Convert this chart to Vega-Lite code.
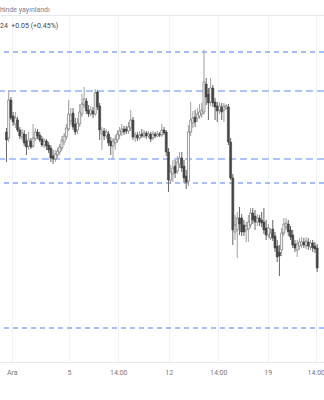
{
"$schema": "https://vega.github.io/schema/vega-lite/v6.json",
"width": 324, "height": 347,
"autosize": "none",
"padding": {"left": 0, "top": 15, "right": 0, "bottom": 38},
"background": "white",
"config": {"view": {"stroke": null}, "font": "Roboto"},
"title": {"text": "hinde yayınlandı", "subtitle": "24\u00a0\u00a0+0.05 (+0.45%)", "anchor": "start", "frame": "group", "orient": "top", "fontSize": 7, "subtitleFontSize": 7, "fontWeight": "normal", "color": "#7d8089", "subtitleColor": "#444444", "font": "Roboto", "subtitleFont": "Roboto", "offset": -14, "subtitlePadding": 9},
"datasets": {
"levels": [
{"p": 13.23, "s": "thin"}, {"p": 11.92, "s": "thin"}, {"p": 10.47, "s": "thin"},
{"p": 12.84, "s": "thick"}, {"p": 12.16, "s": "thick"}
],
"candles": [
{"i":0,"o":12.43,"h":12.47,"l":12.13,"c":12.35},
{"i":1,"o":12.37,"h":12.85,"l":12.33,"c":12.75},
{"i":2,"o":12.75,"h":12.78,"l":12.55,"c":12.57},
{"i":3,"o":12.59,"h":12.63,"l":12.49,"c":12.53},
{"i":4,"o":12.51,"h":12.63,"l":12.47,"c":12.57},
{"i":5,"o":12.55,"h":12.58,"l":12.43,"c":12.45},
{"i":6,"o":12.45,"h":12.48,"l":12.36,"c":12.39},
{"i":7,"o":12.38,"h":12.46,"l":12.35,"c":12.42},
{"i":8,"o":12.41,"h":12.45,"l":12.29,"c":12.32},
{"i":9,"o":12.34,"h":12.41,"l":12.20,"c":12.28},
{"i":10,"o":12.29,"h":12.43,"l":12.25,"c":12.35},
{"i":11,"o":12.34,"h":12.37,"l":12.26,"c":12.28},
{"i":12,"o":12.29,"h":12.51,"l":12.27,"c":12.37},
{"i":13,"o":12.36,"h":12.47,"l":12.34,"c":12.43},
{"i":14,"o":12.43,"h":12.46,"l":12.36,"c":12.39},
{"i":15,"o":12.40,"h":12.43,"l":12.33,"c":12.35},
{"i":16,"o":12.36,"h":12.39,"l":12.28,"c":12.30},
{"i":17,"o":12.30,"h":12.37,"l":12.27,"c":12.34},
{"i":18,"o":12.34,"h":12.36,"l":12.25,"c":12.29},
{"i":19,"o":12.30,"h":12.33,"l":12.22,"c":12.25},
{"i":20,"o":12.27,"h":12.30,"l":12.13,"c":12.17},
{"i":21,"o":12.19,"h":12.25,"l":12.11,"c":12.16},
{"i":22,"o":12.16,"h":12.25,"l":12.13,"c":12.21},
{"i":23,"o":12.20,"h":12.27,"l":12.17,"c":12.24},
{"i":24,"o":12.23,"h":12.31,"l":12.20,"c":12.28},
{"i":25,"o":12.27,"h":12.39,"l":12.24,"c":12.35},
{"i":26,"o":12.33,"h":12.42,"l":12.30,"c":12.39},
{"i":27,"o":12.38,"h":12.51,"l":12.35,"c":12.47},
{"i":28,"o":12.46,"h":12.75,"l":12.44,"c":12.61},
{"i":29,"o":12.54,"h":12.67,"l":12.50,"c":12.60},
{"i":30,"o":12.62,"h":12.67,"l":12.45,"c":12.48},
{"i":31,"o":12.51,"h":12.57,"l":12.40,"c":12.43},
{"i":32,"o":12.45,"h":12.57,"l":12.41,"c":12.52},
{"i":33,"o":12.51,"h":12.71,"l":12.48,"c":12.63},
{"i":34,"o":12.61,"h":12.81,"l":12.58,"c":12.71},
{"i":35,"o":12.70,"h":12.88,"l":12.67,"c":12.76},
{"i":36,"o":12.74,"h":12.77,"l":12.61,"c":12.64},
{"i":37,"o":12.65,"h":12.70,"l":12.58,"c":12.61},
{"i":38,"o":12.61,"h":12.69,"l":12.59,"c":12.65},
{"i":39,"o":12.64,"h":12.68,"l":12.57,"c":12.61},
{"i":40,"o":12.61,"h":12.86,"l":12.59,"c":12.82},
{"i":41,"o":12.83,"h":12.85,"l":12.65,"c":12.68},
{"i":42,"o":12.69,"h":12.72,"l":12.35,"c":12.45},
{"i":43,"o":12.41,"h":12.48,"l":12.25,"c":12.44},
{"i":44,"o":12.44,"h":12.47,"l":12.35,"c":12.39},
{"i":45,"o":12.39,"h":12.46,"l":12.36,"c":12.43},
{"i":46,"o":12.41,"h":12.44,"l":12.29,"c":12.32},
{"i":47,"o":12.34,"h":12.38,"l":12.20,"c":12.29},
{"i":48,"o":12.29,"h":12.37,"l":12.16,"c":12.34},
{"i":49,"o":12.32,"h":12.40,"l":12.25,"c":12.36},
{"i":50,"o":12.35,"h":12.45,"l":12.32,"c":12.41},
{"i":51,"o":12.40,"h":12.48,"l":12.36,"c":12.44},
{"i":52,"o":12.43,"h":12.51,"l":12.39,"c":12.46},
{"i":53,"o":12.46,"h":12.49,"l":12.40,"c":12.43},
{"i":54,"o":12.46,"h":12.49,"l":12.41,"c":12.44},
{"i":55,"o":12.44,"h":12.53,"l":12.41,"c":12.48},
{"i":56,"o":12.47,"h":12.65,"l":12.44,"c":12.55},
{"i":57,"o":12.55,"h":12.58,"l":12.35,"c":12.38},
{"i":58,"o":12.38,"h":12.43,"l":12.33,"c":12.40},
{"i":59,"o":12.40,"h":12.43,"l":12.34,"c":12.37},
{"i":60,"o":12.37,"h":12.44,"l":12.35,"c":12.40},
{"i":61,"o":12.41,"h":12.46,"l":12.37,"c":12.39},
{"i":62,"o":12.39,"h":12.45,"l":12.37,"c":12.42},
{"i":63,"o":12.42,"h":12.44,"l":12.36,"c":12.39},
{"i":64,"o":12.39,"h":12.44,"l":12.37,"c":12.41},
{"i":65,"o":12.41,"h":12.43,"l":12.33,"c":12.36},
{"i":66,"o":12.37,"h":12.44,"l":12.35,"c":12.41},
{"i":67,"o":12.41,"h":12.43,"l":12.37,"c":12.39},
{"i":68,"o":12.39,"h":12.44,"l":12.38,"c":12.41},
{"i":69,"o":12.41,"h":12.43,"l":12.38,"c":12.40},
{"i":70,"o":12.40,"h":12.51,"l":12.38,"c":12.45},
{"i":71,"o":12.45,"h":12.48,"l":12.40,"c":12.42},
{"i":72,"o":12.43,"h":12.45,"l":12.19,"c":12.23},
{"i":73,"o":12.23,"h":12.27,"l":11.83,"c":11.95},
{"i":74,"o":11.95,"h":12.10,"l":11.91,"c":12.03},
{"i":75,"o":12.01,"h":12.15,"l":11.93,"c":12.07},
{"i":76,"o":12.09,"h":12.15,"l":11.97,"c":12.02},
{"i":77,"o":12.04,"h":12.19,"l":12.01,"c":12.13},
{"i":78,"o":12.11,"h":12.23,"l":12.07,"c":12.17},
{"i":79,"o":12.17,"h":12.23,"l":12.03,"c":12.07},
{"i":80,"o":12.09,"h":12.15,"l":11.92,"c":11.97},
{"i":81,"o":11.99,"h":12.05,"l":11.86,"c":11.93},
{"i":82,"o":11.94,"h":12.50,"l":11.89,"c":12.43},
{"i":83,"o":12.43,"h":12.73,"l":12.39,"c":12.55},
{"i":84,"o":12.52,"h":12.64,"l":12.47,"c":12.57},
{"i":85,"o":12.58,"h":12.65,"l":12.48,"c":12.53},
{"i":86,"o":12.57,"h":12.67,"l":12.53,"c":12.61},
{"i":87,"o":12.59,"h":12.71,"l":12.56,"c":12.63},
{"i":88,"o":12.61,"h":12.72,"l":12.57,"c":12.65},
{"i":89,"o":12.63,"h":13.25,"l":12.60,"c":12.93},
{"i":90,"o":12.91,"h":12.97,"l":12.70,"c":12.78},
{"i":91,"o":12.81,"h":12.87,"l":12.55,"c":12.72},
{"i":92,"o":12.73,"h":12.97,"l":12.69,"c":12.87},
{"i":93,"o":12.87,"h":12.90,"l":12.68,"c":12.72},
{"i":94,"o":12.73,"h":12.77,"l":12.55,"c":12.68},
{"i":95,"o":12.69,"h":12.73,"l":12.53,"c":12.64},
{"i":96,"o":12.65,"h":12.73,"l":12.61,"c":12.69},
{"i":97,"o":12.68,"h":12.72,"l":12.55,"c":12.63},
{"i":98,"o":12.65,"h":12.72,"l":12.53,"c":12.69},
{"i":99,"o":12.67,"h":12.71,"l":12.65,"c":12.69},
{"i":100,"o":12.68,"h":12.71,"l":12.30,"c":12.33},
{"i":101,"o":12.33,"h":12.37,"l":11.95,"c":11.97},
{"i":102,"o":11.97,"h":12.01,"l":11.30,"c":11.45},
{"i":103,"o":11.43,"h":11.60,"l":11.35,"c":11.50},
{"i":104,"o":11.45,"h":11.63,"l":11.17,"c":11.57},
{"i":105,"o":11.57,"h":11.68,"l":11.40,"c":11.51},
{"i":106,"o":11.57,"h":11.61,"l":11.39,"c":11.43},
{"i":107,"o":11.50,"h":11.55,"l":11.39,"c":11.43},
{"i":108,"o":11.45,"h":11.53,"l":11.33,"c":11.49},
{"i":109,"o":11.46,"h":11.60,"l":11.33,"c":11.53},
{"i":110,"o":11.50,"h":11.67,"l":11.47,"c":11.62},
{"i":111,"o":11.62,"h":11.67,"l":11.51,"c":11.55},
{"i":112,"o":11.59,"h":11.65,"l":11.45,"c":11.53},
{"i":113,"o":11.53,"h":11.61,"l":11.49,"c":11.57},
{"i":114,"o":11.57,"h":11.60,"l":11.49,"c":11.53},
{"i":115,"o":11.55,"h":11.63,"l":11.48,"c":11.52},
{"i":116,"o":11.53,"h":11.67,"l":11.41,"c":11.45},
{"i":117,"o":11.47,"h":11.55,"l":11.35,"c":11.40},
{"i":118,"o":11.40,"h":11.51,"l":11.37,"c":11.47},
{"i":119,"o":11.37,"h":11.47,"l":11.35,"c":11.42},
{"i":120,"o":11.46,"h":11.55,"l":11.34,"c":11.37},
{"i":121,"o":11.39,"h":11.43,"l":11.23,"c":11.27},
{"i":122,"o":11.29,"h":11.35,"l":11.13,"c":11.18},
{"i":123,"o":11.23,"h":11.30,"l":10.99,"c":11.19},
{"i":124,"o":11.25,"h":11.47,"l":11.19,"c":11.42},
{"i":125,"o":11.42,"h":11.57,"l":11.39,"c":11.51},
{"i":126,"o":11.48,"h":11.57,"l":11.45,"c":11.52},
{"i":127,"o":11.51,"h":11.55,"l":11.39,"c":11.43},
{"i":128,"o":11.45,"h":11.49,"l":11.35,"c":11.38},
{"i":129,"o":11.40,"h":11.45,"l":11.27,"c":11.30},
{"i":130,"o":11.31,"h":11.35,"l":11.23,"c":11.27},
{"i":131,"o":11.25,"h":11.35,"l":11.18,"c":11.31},
{"i":132,"o":11.29,"h":11.37,"l":11.25,"c":11.33},
{"i":133,"o":11.30,"h":11.38,"l":11.27,"c":11.33},
{"i":134,"o":11.33,"h":11.37,"l":11.27,"c":11.30},
{"i":135,"o":11.29,"h":11.38,"l":11.26,"c":11.34},
{"i":136,"o":11.33,"h":11.37,"l":11.25,"c":11.29},
{"i":137,"o":11.28,"h":11.35,"l":11.25,"c":11.32},
{"i":138,"o":11.32,"h":11.35,"l":11.23,"c":11.27},
{"i":139,"o":11.29,"h":11.33,"l":11.22,"c":11.26},
{"i":140,"o":11.27,"h":11.31,"l":11.03,"c":11.07}
]
},
"resolve": {"axis": {"x": "independent"}},
"layer": [
{"data": {"name": "levels"}, "transform": [{"filter": "datum.s == 'thick'"}],
 "mark": {"type": "rule", "strokeDash": [7, 4], "strokeWidth": 1.6, "color": "#94b3f6"},
 "encoding": {"y": {"field": "p", "type": "quantitative", "scale": {"domain": [10.13, 13.6], "nice": false, "zero": false}, "axis": null}}},
{"data": {"name": "levels"}, "transform": [{"filter": "datum.s == 'thin'"}],
 "mark": {"type": "rule", "strokeDash": [5, 4], "strokeWidth": 1, "color": "#4d7ef2"},
 "encoding": {"y": {"field": "p", "type": "quantitative", "scale": {"domain": [10.13, 13.6], "nice": false, "zero": false}, "axis": null}}},
{"data": {"name": "candles"},
 "mark": {"type": "rule", "strokeWidth": 1},
 "encoding": {
  "x": {"field": "i", "type": "quantitative", "scale": {"domain": [-0.655, 140.83], "nice": false, "zero": false},
        "axis": {"orient": "bottom", "values": [2.4, 28.2, 50.4, 73.1, 95.4, 117.7, 139.4],
                 "labelExpr": "datum.value < 10 ? 'Ara' : datum.value < 40 ? '5' : datum.value < 60 ? '14:00' : datum.value < 85 ? '12' : datum.value < 105 ? '14:00' : datum.value < 130 ? '19' : '14:00'",
                 "grid": true, "gridColor": "#f0f2f6", "ticks": false, "domain": true, "domainColor": "#e6e8ee",
                 "labelColor": "#777777", "labelFontSize": 7, "labelFont": "Roboto", "labelPadding": 6,
                 "labelFlush": false, "labelOverlap": false, "title": null}},
  "y": {"field": "l", "type": "quantitative", "scale": {"domain": [10.13, 13.6], "nice": false, "zero": false},
        "axis": {"orient": "right", "values": [13.415, 13.19, 12.965, 12.74, 12.515, 12.29, 12.065, 11.84, 11.615, 11.39, 11.165, 10.94, 10.715, 10.49, 10.265],
                 "grid": true, "gridColor": "#f0f2f6", "labels": false, "ticks": false, "domain": false, "title": null}},
  "y2": {"field": "h"},
  "color": {"condition": {"test": "datum.c >= datum.o", "value": "#a0a0a0"}, "value": "#666666"}
 }},
{"data": {"name": "candles"},
 "mark": {"type": "bar", "size": 2.0, "strokeWidth": 0.6},
 "encoding": {
  "x": {"field": "i", "type": "quantitative", "scale": {"domain": [-0.655, 140.83], "nice": false, "zero": false},
        "axis": {"orient": "top", "labels": false, "ticks": false, "grid": false, "domain": true, "domainColor": "#e6e8ee", "title": null}},
  "y": {"field": "o", "type": "quantitative", "scale": {"domain": [10.13, 13.6], "nice": false, "zero": false}, "axis": null},
  "y2": {"field": "c"},
  "fill": {"condition": {"test": "datum.c >= datum.o", "value": "#ffffff"}, "value": "#454545"},
  "stroke": {"condition": {"test": "datum.c >= datum.o", "value": "#5a5a5a"}, "value": "#454545"}
 }}
]
}
